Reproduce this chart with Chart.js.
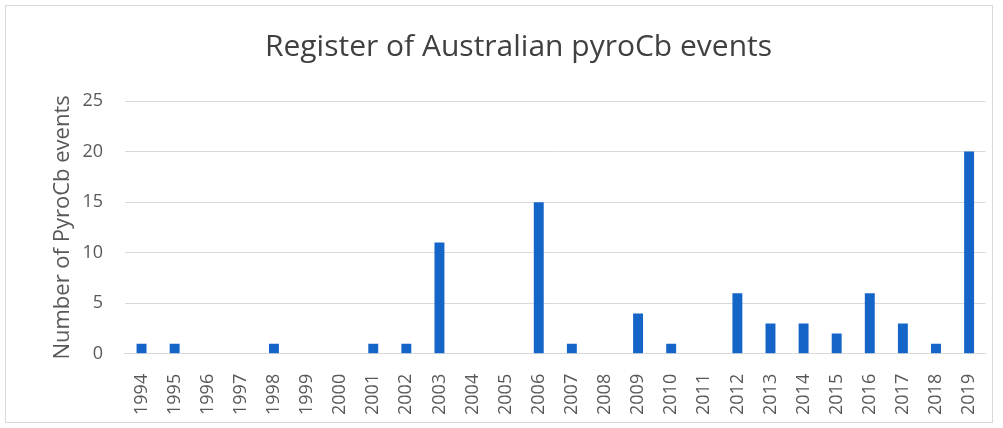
<!DOCTYPE html>
<html>
<head>
<meta charset="utf-8">
<script src="https://cdn.jsdelivr.net/npm/chart.js@4/dist/chart.umd.min.js"></script>
<style>
  html, body { margin: 0; padding: 0; background: #fff; }
  #frame { position: absolute; left: 5px; top: 5px; width: 988px; height: 418px; border: 1px solid #d9d9d9; box-sizing: border-box; }
  #chart { position: absolute; left: 0; top: 0; }
</style>
</head>
<body>
<div id="frame"></div>
<canvas id="chart" width="1003" height="428"></canvas>
<script>
const years = ['1994','1995','1996','1997','1998','1999','2000','2001','2002','2003','2004','2005','2006',
  '2007','2008','2009','2010','2011','2012','2013','2014','2015','2016','2017','2018','2019'];
const events = [1, 1, 0, 0, 1, 0, 0, 1, 1, 11, 0, 0, 15, 1, 0, 4, 1, 0, 6, 3, 3, 2, 6, 3, 1, 20];
const yTicks = [0, 5, 10, 15, 20, 25];

const labelFont = '"Open Sans", sans-serif';

let ctx = document.getElementById('chart');
new Chart(ctx, {
  type: 'bar',
  data: {
    labels: years,
    datasets: [{
      label: 'PyroCb events',
      data: events,
      backgroundColor: '#1565c8',
      barPercentage: 0.3,
      categoryPercentage: 1.0,
    }],
  },
  options: {
    responsive: false,
    animation: false,
    layout: {
      padding: { top: 0, left: 50, right: 16, bottom: 1 },
    },
    plugins: {
      legend: { display: false },
      tooltip: { enabled: false },
      title: {
        display: true,
        text: 'Register of Australian pyroCb events',
        color: '#404040',
        font: { family: labelFont, size: 30, weight: 'normal' },
        padding: { top: 29, bottom: 36 },
      },
    },
    scales: {
      x: {
        grid: { display: false },
        border: { color: '#d9d9d9' },
        ticks: {
          color: '#595959',
          font: { family: labelFont, size: 18 },
          maxRotation: 90,
          minRotation: 90,
          autoSkip: false,
          padding: 12,
        },
      },
      y: {
        min: 0,
        max: 25,
        afterBuildTicks: (axis) => { axis.ticks = yTicks.map(v => ({ value: v })); },
        grid: { color: '#d9d9d9', drawTicks: false },
        border: { display: false },
        ticks: {
          color: '#595959',
          font: { family: labelFont, size: 18 },
          padding: 22,
        },
        title: {
          display: true,
          text: 'Number of PyroCb events',
          color: '#595959',
          font: { family: labelFont, size: 22 },
          padding: { top: 0, bottom: -16 },
        },
      },
    },
  },
});
</script>
</body>
</html>
